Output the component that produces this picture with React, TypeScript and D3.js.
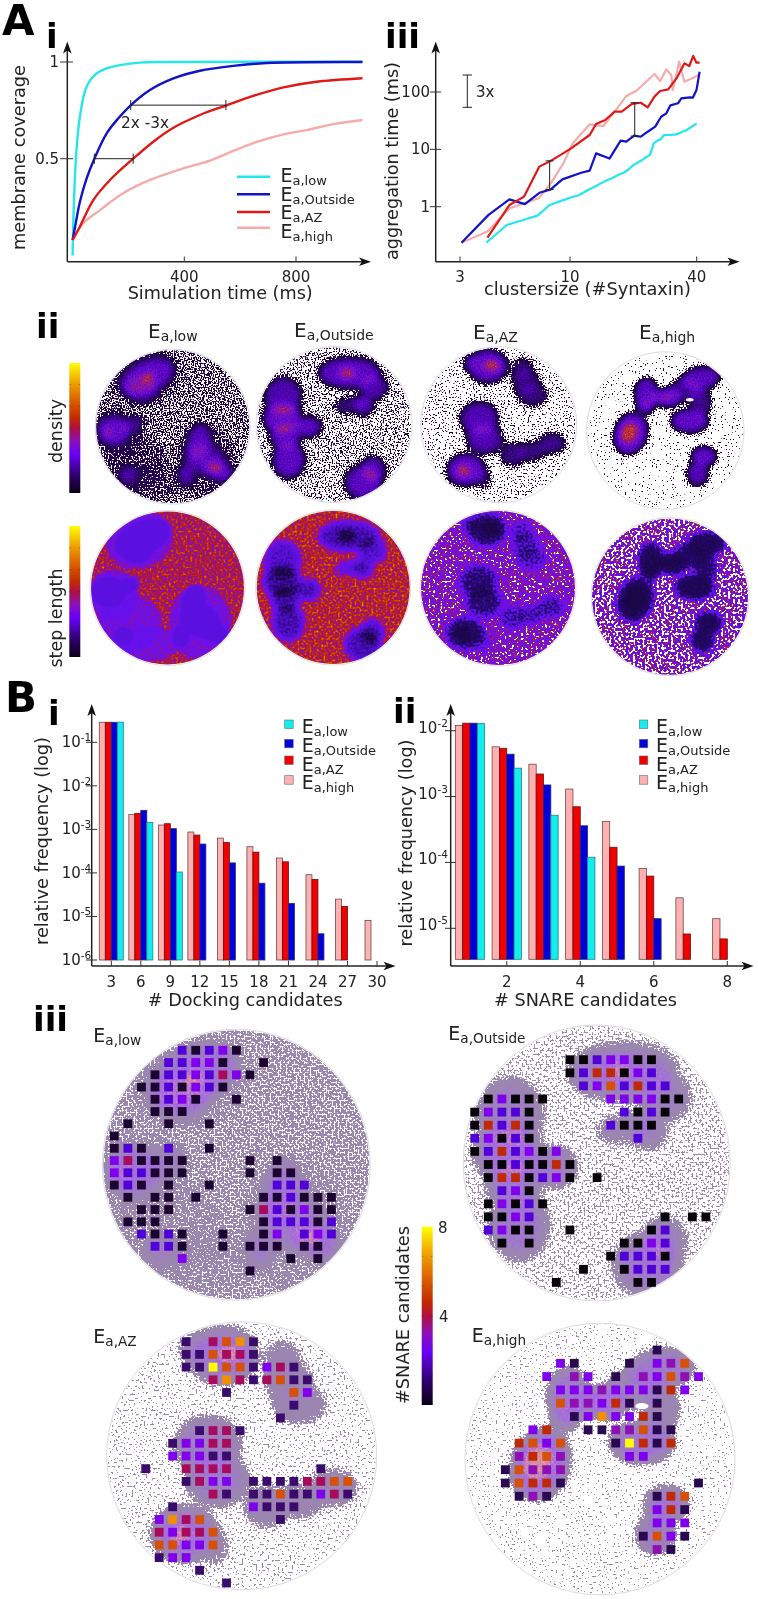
import React from "react";
import * as d3 from "d3";

type Pt = [number, number];
type Blob = [number, number, number, number, number, number];

// ---------- A i : membrane coverage vs. simulation time
const coverageTicksX = [400, 800];
const coverageTicksY = [0.5, 1];
const covLow: Pt[] = [[0, 0], [5, 0.286], [14, 0.545], [26, 0.717], [50, 0.872], [86, 0.941], [122, 0.967], [170, 0.984], [241, 0.997], [337, 1], [1038, 1.002]];
const covOutside: Pt[] = [[0, 0.08], [12, 0.172], [26, 0.276], [50, 0.397], [78, 0.5], [122, 0.631], [164, 0.709], [208, 0.776], [277, 0.855], [361, 0.915], [456, 0.955], [575, 0.98], [695, 0.995], [1038, 1]];
const covAZ: Pt[] = [[0, 0.08], [26, 0.148], [74, 0.286], [134, 0.39], [217, 0.5], [289, 0.588], [361, 0.66], [456, 0.726], [549, 0.775], [647, 0.825], [755, 0.869], [874, 0.898], [1038, 0.916]];
const covHigh: Pt[] = [[0, 0.08], [38, 0.166], [98, 0.234], [181, 0.321], [277, 0.39], [396, 0.45], [492, 0.49], [575, 0.54], [671, 0.592], [755, 0.626], [838, 0.648], [934, 0.679], [1038, 0.7]];

// ---------- A iii : aggregation time vs. cluster size
const aggTicksX = [3, 10, 40];
const aggTicksY = [1, 10, 100];
const aggLow: Pt[] = [[4, 0.235], [5, 0.48], [6, 0.585], [7, 0.7], [8, 1.07], [9, 1.25], [10, 1.43], [11, 1.58], [12, 1.9], [13, 2.2], [14, 2.55], [15, 2.9], [16, 3.2], [17, 3.6], [18, 3.9], [19, 4.5], [20, 5.3], [21, 5.9], [22, 6.5], [23, 7.3], [24, 8], [25, 12.7], [26, 14.2], [27, 15], [28, 17.8], [30, 17.8], [32, 18.2], [34, 20], [36, 22], [38, 25], [40, 28.4]];
const aggOutside: Pt[] = [[3.05, 0.235], [4.1, 0.72], [5.15, 1.34], [6.1, 1.11], [7.15, 1.75], [8.1, 2], [9.2, 3], [11.3, 3.9], [12.4, 4.25], [13.3, 8.5], [15.4, 6.9], [17.4, 14.2], [18.5, 13.6], [20.2, 17.3], [21.7, 16.6], [23.4, 20.3], [25.4, 24.9], [27.1, 37], [28.7, 42.5], [30, 58.5], [32.6, 63.5], [33.8, 77.6], [37, 80.7], [38.4, 79.9], [39.9, 108], [41.3, 226]];
const aggAZ: Pt[] = [[4.05, 0.29], [5.15, 1.07], [6.05, 1.5], [7.15, 5], [8.1, 6.3], [10, 10.1], [12.4, 17.8], [13.3, 27.7], [14.7, 32.5], [16.3, 45.4], [17.6, 45.4], [19.7, 61.9], [21.7, 65], [23.4, 54], [25.2, 83], [26.8, 104], [29.3, 111], [32.3, 180], [35, 316], [36.9, 284], [38.5, 425], [39.9, 325], [41.3, 325]];
const aggHigh: Pt[] = [[3.05, 0.235], [4.05, 0.37], [5.15, 0.93], [7.1, 1.4], [8.1, 2.55], [9.3, 5.7], [10.3, 12.7], [12.4, 27.3], [14.4, 25.5], [16.3, 45.4], [18.5, 85], [20.7, 105], [25.2, 206], [26.8, 155], [28.7, 248], [30.3, 198], [30.8, 108], [33, 338], [35, 151], [39, 180], [41.3, 206]];

// ---------- B i : docking candidates histogram
const dockBins = [3, 6, 9, 12, 15, 18, 21, 24, 27, 30];
const dockHigh = [0.288, 2.2e-3, 1.26e-3, 8.7e-4, 6.3e-4, 4.0e-4, 2.2e-4, 9.1e-5, 2.5e-5, 8.1e-6];
const dockAZ = [0.288, 2.34e-3, 1.35e-3, 7.4e-4, 5.0e-4, 3.0e-4, 1.8e-4, 7.1e-5, 1.7e-5, 0];
const dockOutside = [0.288, 2.74e-3, 1.04e-3, 4.6e-4, 1.7e-4, 5.8e-5, 2.0e-5, 4.0e-6, 0, 0];
const dockLow = [0.29, 1.45e-3, 1.05e-4, 0, 0, 0, 0, 0, 0, 0];
const dockTicksY = [1e-6, 1e-5, 1e-4, 1e-3, 1e-2, 1e-1];

// ---------- B ii : SNARE candidates histogram
const snareBins = [1, 2, 3, 4, 5, 6, 7, 8];
const snareHigh = [1.2e-2, 5.7e-3, 3.1e-3, 1.3e-3, 4.2e-4, 8.1e-5, 2.9e-5, 1.4e-5];
const snareAZ = [1.3e-2, 5.4e-3, 2.2e-3, 7.0e-4, 1.7e-4, 6.2e-5, 8.2e-6, 6.9e-6];
const snareOutside = [1.3e-2, 4.4e-3, 1.5e-3, 3.6e-4, 8.8e-5, 1.4e-5, 0, 0];
const snareLow = [1.28e-2, 2.7e-3, 5.2e-4, 1.2e-4, 0, 0, 0, 0];
const snareTicksX = [2, 4, 6, 8];
const snareTicksY = [1e-5, 1e-4, 1e-3, 1e-2];

// ---------- clusters of each condition, in units of the membrane radius
const blobsLow: Blob[] = [
  [-0.33, -0.64, 0.36, 0.2, -25, 0.42], [-0.4, -0.5, 0.2, 0.17, 0, 0.3], [-0.31, -0.65, 0.09, 0.07, -20, 0.42],
  [-0.76, 0.05, 0.2, 0.18, 0, 0.42], [-0.53, -0.02, 0.15, 0.09, -25, 0.25], [-0.83, 0.07, 0.06, 0.08, 0, 0.35],
  [0.34, 0.22, 0.14, 0.24, 10, 0.38], [0.42, 0.42, 0.26, 0.2, 20, 0.3], [0.18, 0.62, 0.09, 0.13, 0, 0.34], [0.58, 0.55, 0.2, 0.12, 30, 0.42], [0.57, 0.55, 0.06, 0.05, 0, 0.35],
  [-0.57, 0.62, 0.11, 0.1, 0, 0.3],
  [-0.36, -0.62, 0.44, 0.36, -20, 0.04], [-0.7, 0.08, 0.32, 0.32, 0, 0.04], [-0.5, 0.45, 0.42, 0.36, 0, 0.04], [-0.25, 0.72, 0.4, 0.22, 0, 0.04], [0.42, 0.45, 0.4, 0.48, 0, 0.04],
];
const blobsOutside: Blob[] = [
  [0.2, -0.66, 0.38, 0.18, 0, 0.45], [0.17, -0.66, 0.12, 0.08, 0, 0.5], [0.5, -0.48, 0.17, 0.15, 0, 0.38],
  [0.24, -0.26, 0.22, 0.08, -10, 0.26], [0.38, -0.24, 0.12, 0.11, 0, 0.36],
  [-0.65, -0.35, 0.22, 0.24, 0, 0.38], [-0.66, -0.08, 0.23, 0.2, 0, 0.5], [-0.62, 0.15, 0.18, 0.16, 0, 0.45], [-0.58, 0.45, 0.19, 0.22, 0, 0.46],
  [-0.33, 0.03, 0.15, 0.12, 0, 0.45],
  [0.38, 0.74, 0.22, 0.2, 0, 0.45], [0.5, 0.58, 0.14, 0.15, 0, 0.42],
];
const blobsAZ: Blob[] = [
  [-0.14, -0.75, 0.24, 0.2, 0, 0.5], [-0.36, -0.8, 0.09, 0.09, 0, 0.3], [-0.09, -0.76, 0.12, 0.08, 0, 0.65],
  [0.3, -0.72, 0.13, 0.13, 0, 0.25], [0.35, -0.55, 0.17, 0.15, 0, 0.28], [0.43, -0.38, 0.19, 0.13, 0, 0.28],
  [-0.25, -0.08, 0.23, 0.2, 0, 0.44], [-0.18, 0.18, 0.22, 0.18, 0, 0.44],
  [-0.42, 0.58, 0.23, 0.19, 0, 0.52], [-0.45, 0.59, 0.09, 0.08, 0, 0.65], [-0.2, 0.68, 0.1, 0.13, 0, 0.2],
  [0.18, 0.38, 0.15, 0.14, 0, 0.3], [0.42, 0.34, 0.17, 0.11, 0, 0.3], [0.68, 0.24, 0.16, 0.12, 0, 0.34],
];
const blobsHigh: Blob[] = [
  [-0.24, -0.46, 0.14, 0.2, 0, 0.52], [-0.26, -0.3, 0.1, 0.1, 0, 0.35], [-0.06, -0.42, 0.14, 0.1, 0, 0.4], [0.06, -0.42, 0.14, 0.12, 0, 0.52],
  [0.45, -0.66, 0.24, 0.14, -10, 0.5], [0.26, -0.52, 0.2, 0.14, 0, 0.35], [0.31, -0.12, 0.23, 0.14, 0, 0.55], [0.45, -0.36, 0.13, 0.17, 0, 0.35],
  [-0.44, 0.04, 0.2, 0.26, 20, 0.58], [-0.46, 0.03, 0.11, 0.14, 25, 0.68],
  [0.49, 0.33, 0.15, 0.12, 0, 0.55], [0.41, 0.55, 0.13, 0.14, 0, 0.48],
];
const holesHigh: Blob[] = [[0.31, -0.39, 0.05, 0.022, 0, 1]];

// ---------- B iii : #SNARE candidates of each grid cell ("." = no candidate)
const gridLow = [
  ".....21231.......", "....22331..1.....", "...12232531......", "..1121321........", "...1231..1.......",
  "...111...........", ".1..1..1.........", "1................", "121.2..1.........", "351111....1.1....",
  "322111....1.11...", "121.1..1....222..", ".1.11.1....112111", "..111.....1521311", ".111.......122212",
  "..2121..1..13.232", "...221..1.111.11.", ".....3.......1.1.", "..........1......",
];
const gridOutside = [
  ".......1123311....", ".......1266132....", "........2372622...", ".13111....333311..", "13221......2121...",
  "16261.....2111....", "23121.......2.....", "1262313...........", ".1121161..........", ".1661231.1........",
  "..231.............", ".13121............", ".1132.........1.11", ".2311..1.....12...", "..1.1......1132...",
  "..........12221...", "........1..1222...", "......1.....11....",
];
const gridAZ = [
  "...1.5781.......", "...117551.......", "...119771351....", ".....58515711...", "......1....73...",
  "...........1....", "..........1.....", "....1551........", "..13355.........", "..33311.........",
  "1..5555......1..", "...1533.11115577", ".....51.11711351", "..1.....3111....", ".3857.....1.....",
  ".53557..........", ".77337..........", ".133............", "....1...........", "......1.........",
];
const gridHigh = [
  "...........1...", "....31...1.347.", "...3.43.1.43743", "....3334333163.", "....744361.1...",
  ".....1383361...", "..36..1144711..", ".6737...19616..", ".4674....33....", "17444..........",
  "17661.........1", ".141.......167.", "...........361.", "...........333.", "..........1731.", "...........41..",
];
const gridLevels = [2, 3, 4, 5, 6, 7, 8, 9];
const gridLevelColors = ["#5200d8", "#8000ee", "#8c10b4", "#a80a5c", "#bf2a04", "#d65008", "#f09000", "#ffff00"];

const condLabels = ["a,low", "a,Outside", "a,AZ", "a,high"];
const colCyan = "#25e6ec", colBlue = "#1212c8", colRed = "#e01818", colPink = "#f6abab";
const barCyan = "#12eeee", barBlue = "#0000d8", barRed = "#f20000", barPink = "#ffb0b0";
const ink = "#222";
const FONT = "'DejaVu Sans', sans-serif";

type Look = { stops: [number, string][]; base: number; amp: number; freq: number; blur: number; gain: number };

const densityStops: [number, string][] = [[0, "#fff"], [0.118, "#fff"], [0.128, "#1c0038"], [0.32, "#2f0a70"], [0.48, "#5000b8"], [0.68, "#7010d8"], [0.8, "#a01878"], [0.9, "#c83a10"], [1, "#e87000"]];
const stepBright: [number, string][] = [[0, "#f0a000"], [0.08, "#d85000"], [0.14, "#c03000"], [0.21, "#a8105c"], [0.28, "#8a10a8"], [0.36, "#6a10ee"], [0.62, "#6410e8"], [1, "#5c10e0"]];
const stepDarkCore: [number, string][] = [[0, "#f0a000"], [0.08, "#d85000"], [0.14, "#c03000"], [0.21, "#a8105c"], [0.28, "#8a10a8"], [0.36, "#6a10ee"], [0.6, "#5a10d8"], [0.8, "#3c0aa0"], [0.95, "#24085c"], [1, "#1c0648"]];
const stepAZ: [number, string][] = [[0, "#fff"], [0.07, "#fff"], [0.08, "#d04000"], [0.13, "#a01060"], [0.19, "#7410e0"], [0.36, "#6a10ee"], [0.48, "#5010d0"], [0.6, "#2e0a80"], [0.8, "#220860"], [1, "#1c0648"]];
const stepHigh: [number, string][] = [[0, "#fff"], [0.16, "#fff"], [0.17, "#c03010"], [0.2, "#a01080"], [0.23, "#6a10ee"], [0.38, "#5a10e0"], [0.48, "#2a0878"], [0.7, "#220860"], [1, "#1a0648"]];
const candidateStops: [number, string][] = [[0, "#fff"], [0.118, "#fff"], [0.128, "#9b87b0"], [0.36, "#9b87b0"], [0.52, "#a07cc8"], [0.68, "#a468e4"], [0.8, "#c080c8"], [0.92, "#e8988c"], [1, "#f0a070"]];

const densLooks: Look[] = [
  { stops: densityStops, base: 0.122, amp: 0.55, freq: 0.71, blur: 3.2, gain: 1 },
  { stops: densityStops, base: 0.09, amp: 0.55, freq: 0.71, blur: 3.2, gain: 1 },
  { stops: densityStops, base: 0.05, amp: 0.55, freq: 0.71, blur: 3.6, gain: 1 },
  { stops: densityStops, base: 0.022, amp: 0.55, freq: 0.71, blur: 3.2, gain: 1 },
];
const stepLooks: Look[] = [
  { stops: stepBright, base: 0.185, amp: 0.55, freq: 0.42, blur: 1.6, gain: 4.4 },
  { stops: stepDarkCore, base: 0.17, amp: 0.55, freq: 0.42, blur: 3, gain: 1.25 },
  { stops: stepAZ, base: 0.19, amp: 0.85, freq: 0.42, blur: 3, gain: 1.1 },
  { stops: stepHigh, base: 0.2, amp: 0.7, freq: 0.42, blur: 3, gain: 1.1 },
];
const candLooks: Look[] = [
  { stops: candidateStops, base: 0.135, amp: 0.55, freq: 0.5, blur: 5, gain: 1 },
  { stops: candidateStops, base: 0.085, amp: 0.55, freq: 0.5, blur: 5.5, gain: 1 },
  { stops: candidateStops, base: 0.04, amp: 0.55, freq: 0.5, blur: 5.5, gain: 1 },
  { stops: candidateStops, base: 0.02, amp: 0.55, freq: 0.5, blur: 5, gain: 1 },
];

const Arrow = ({ x, y, dir }: { x: number; y: number; dir: "up" | "right" }) => (
  <path d="M0,0 L-12,-4.3 L-9,0 L-12,4.3 Z" transform={`translate(${x},${y}) rotate(${dir === "up" ? -90 : 0})`} fill="#111" />
);

const Bold = ({ x, y, size, children }: any) => (
  <text x={x} y={y} fontSize={size} fontWeight="bold" fontFamily={FONT} fill="#000">{children}</text>
);

const ELabel = ({ x, y, sub, size = 19, subSize = 13, drop = 3 }: any) => (
  <text x={x} y={y} fontFamily={FONT} fill={ink} fontSize={size}>E<tspan fontSize={subSize} dy={drop}>{sub}</tspan></text>
);

const Sci = ({ x, y, exp }: { x: number; y: number; exp: number }) => (
  <text x={x} y={y} fontFamily={FONT} fontSize={15} fill={ink}>10<tspan fontSize={10.5} dy={-6}>{`-${exp}`}</tspan></text>
);

const VText = ({ x, y, size, len, children }: any) => (
  <text transform={`translate(${x},${y}) rotate(-90)`} textAnchor="middle" fontFamily={FONT} fontSize={size} fill={ink} textLength={len} lengthAdjust="spacingAndGlyphs">{children}</text>
);

const HText = ({ x, y, size, len, children }: any) => (
  <text x={x} y={y} fontFamily={FONT} fontSize={size} fill={ink} textLength={len} lengthAdjust="spacingAndGlyphs">{children}</text>
);

function tables(stops: [number, string][]) {
  const scale = d3.scaleLinear<string>().domain(stops.map((s) => s[0])).range(stops.map((s) => s[1])).clamp(true);
  const n = 160;
  const r: number[] = [], g: number[] = [], b: number[] = [];
  for (let i = 0; i <= n; i++) {
    const c = d3.rgb(scale(i / n));
    r.push(+(c.r / 255).toFixed(3));
    g.push(+(c.g / 255).toFixed(3));
    b.push(+(c.b / 255).toFixed(3));
  }
  return { r: r.join(" "), g: g.join(" "), b: b.join(" ") };
}

const FieldPanel = ({ id, cx, cy, rx, ry, blobs, look, seed, holes = [] }: { id: string; cx: number; cy: number; rx: number; ry: number; blobs: Blob[]; look: Look; seed: number; holes?: Blob[] }) => {
  const u = d3.scaleLinear().domain([-1, 1]).range([cx - rx, cx + rx]);
  const v = d3.scaleLinear().domain([-1, 1]).range([cy - ry, cy + ry]);
  const t = tables(look.stops);
  return (
    <g>
      <defs>
        <clipPath id={`${id}c`}><ellipse cx={cx} cy={cy} rx={rx - 1} ry={ry - 1} /></clipPath>
        <filter id={`${id}f`} filterUnits="userSpaceOnUse" x={cx - rx - 4} y={cy - ry - 4} width={2 * rx + 8} height={2 * ry + 8} colorInterpolationFilters="sRGB">
          <feGaussianBlur in="SourceAlpha" stdDeviation={look.blur} result="field" />
          <feTurbulence type="fractalNoise" baseFrequency={look.freq} numOctaves={1} seed={seed} result="n0" />
          <feColorMatrix in="n0" type="matrix" values="0 0 0 0 0  0 0 0 0 0  0 0 0 0 0  1 0 0 0 0" result="noise" />
          <feComposite in="field" in2="noise" operator="arithmetic" k1={0} k2={look.gain} k3={look.amp} k4={look.base - look.amp / 2} result="val" />
          <feColorMatrix in="val" type="matrix" values="0 0 0 1 0  0 0 0 1 0  0 0 0 1 0  0 0 0 0 1" result="gray" />
          <feComponentTransfer in="gray">
            <feFuncR type="table" tableValues={t.r} />
            <feFuncG type="table" tableValues={t.g} />
            <feFuncB type="table" tableValues={t.b} />
          </feComponentTransfer>
        </filter>
      </defs>
      <g clipPath={`url(#${id}c)`}>
        <g filter={`url(#${id}f)`}>
          <rect x={cx - rx - 4} y={cy - ry - 4} width={2 * rx + 8} height={2 * ry + 8} fill="#000" fillOpacity={0.002} />
          {blobs.map((b, i) => (
            <ellipse key={i} cx={u(b[0])} cy={v(b[1])} rx={b[2] * rx} ry={b[3] * ry} fill="#000" fillOpacity={b[5]} transform={`rotate(${b[4]} ${u(b[0])} ${v(b[1])})`} />
          ))}
        </g>
        {holes.map((b, i) => (
          <ellipse key={i} cx={u(b[0])} cy={v(b[1])} rx={b[2] * rx} ry={b[3] * ry} fill="#fff" />
        ))}
      </g>
      <ellipse cx={cx} cy={cy} rx={rx} ry={ry} fill="none" stroke="#dcdcdc" strokeWidth={1} />
    </g>
  );
};

const Grid = ({ rows, x0, dx, y0, dy, dark }: { rows: string[]; x0: number; dx: number; y0: number; dy: number; dark: string }) => {
  const levelColor = d3.scaleOrdinal<number, string>().domain(gridLevels).range(gridLevelColors);
  const s = 8.8;
  return (
    <g>
      {rows.map((row, j) =>
        row.split("").map((ch, i) => {
          if (ch === ".") return null;
          const val = +ch;
          return <rect key={`${i}-${j}`} x={x0 + i * dx - s / 2} y={y0 + j * dy - s / 2} width={s} height={s} fill={val === 1 ? dark : levelColor(val)} />;
        })
      )}
    </g>
  );
};

const Colorbar = ({ x, y, w, h, id }: { x: number; y: number; w: number; h: number; id: string }) => (
  <g>
    <defs>
      <linearGradient id={id} x1="0" y1="1" x2="0" y2="0">
        <stop offset="0" stopColor="#0c0018" />
        <stop offset="0.12" stopColor="#2a0060" />
        <stop offset="0.3" stopColor="#6a00f8" />
        <stop offset="0.4" stopColor="#8a10b8" />
        <stop offset="0.5" stopColor="#b01040" />
        <stop offset="0.58" stopColor="#c02c00" />
        <stop offset="0.72" stopColor="#dc6400" />
        <stop offset="0.86" stopColor="#f0a800" />
        <stop offset="1" stopColor="#ffff00" />
      </linearGradient>
    </defs>
    <rect x={x} y={y} width={w} height={h} fill={`url(#${id})`} />
    {[1, 2, 3, 4, 5].map((k) => (
      <g key={k} stroke="#222" strokeOpacity={0.45} strokeWidth={0.6}>
        <line x1={x} x2={x + 2} y1={y + (k * h) / 6} y2={y + (k * h) / 6} />
        <line x1={x + w - 2} x2={x + w} y1={y + (k * h) / 6} y2={y + (k * h) / 6} />
      </g>
    ))}
  </g>
);

const PanelAi = () => {
  const x = d3.scaleLinear().domain([0, 800]).range([72.6, 296]);
  const y = d3.scaleLinear().domain([0, 1]).range([255.4, 62]);
  const line = d3.line<Pt>().x((d) => x(d[0])).y((d) => y(d[1])).curve(d3.curveCatmullRom.alpha(0.5));
  const series: [Pt[], string][] = [[covHigh, colPink], [covLow, colCyan], [covOutside, colBlue], [covAZ, colRed]];
  const legendOrder = [colCyan, colBlue, colRed, colPink];
  const legendY = [176.7, 194.3, 212, 227.7];
  const legendBase = [181.7, 200.7, 219.3, 238];
  return (
    <g>
      {series.map(([d, c], i) => <path key={i} d={line(d) || ""} fill="none" stroke={c} strokeWidth={2.4} />)}
      <line x1={67.3} x2={67.3} y1={50} y2={261.7} stroke="#222" strokeWidth={1.5} />
      <line x1={67.3} x2={364} y1={261.7} y2={261.7} stroke="#222" strokeWidth={1.5} />
      <Arrow x={67.3} y={41.5} dir="up" />
      <Arrow x={371} y={261.7} dir="right" />
      {coverageTicksY.map((t) => (
        <g key={t}>
          <line x1={60} x2={73} y1={y(t)} y2={y(t)} stroke="#333" strokeWidth={1} />
          <text x={59} y={y(t) + 5} textAnchor="end" fontFamily={FONT} fontSize={15} fill={ink}>{t}</text>
        </g>
      ))}
      {coverageTicksX.map((t) => (
        <g key={t}>
          <line x1={x(t)} x2={x(t)} y1={256.5} y2={261.7} stroke="#333" strokeWidth={1} />
          <text x={x(t)} y={282} textAnchor="middle" fontFamily={FONT} fontSize={15} fill={ink}>{t}</text>
        </g>
      ))}
      <HText x={127.7} y={299} size={17.6} len={185}>Simulation time (ms)</HText>
      <VText x={24.5} y={157.5} size={17.6} len={185}>membrane coverage</VText>
      {[[78, 217, 0.5], [208, 549, 0.777]].map(([a, b, v], i) => (
        <g key={i} stroke="#222" strokeWidth={1}>
          <line x1={x(a)} x2={x(b)} y1={y(v)} y2={y(v)} />
          <line x1={x(a)} x2={x(a)} y1={y(v) - 5} y2={y(v) + 5} />
          <line x1={x(b)} x2={x(b)} y1={y(v) - 5} y2={y(v) + 5} />
        </g>
      ))}
      <HText x={121} y={128} size={15} len={48}>2x -3x</HText>
      {legendOrder.map((c, i) => (
        <g key={c}>
          <line x1={237} x2={270} y1={legendY[i]} y2={legendY[i]} stroke={c} strokeWidth={2.4} />
          <ELabel x={280.5} y={legendBase[i]} sub={condLabels[i]} />
        </g>
      ))}
      <Bold x={2} y={35} size={42}>A</Bold>
      <Bold x={46} y={48} size={34}>i</Bold>
    </g>
  );
};

const PanelAiii = () => {
  const x = d3.scaleLog().domain([3, 40]).range([460, 696.7]);
  const y = d3.scaleLog().domain([1, 100]).range([206.7, 92]);
  const line = d3.line<Pt>().x((d) => x(d[0])).y((d) => y(d[1]));
  const series: [Pt[], string][] = [[aggHigh, colPink], [aggLow, colCyan], [aggOutside, colBlue], [aggAZ, colRed]];
  return (
    <g>
      {series.map(([d, c], i) => <path key={i} d={line(d) || ""} fill="none" stroke={c} strokeWidth={2.2} strokeLinejoin="round" />)}
      <line x1={435.7} x2={435.7} y1={50} y2={261.7} stroke="#222" strokeWidth={1.5} />
      <line x1={435.7} x2={732} y1={261.7} y2={261.7} stroke="#222" strokeWidth={1.5} />
      <Arrow x={435.7} y={41.5} dir="up" />
      <Arrow x={739.5} y={261.7} dir="right" />
      {aggTicksY.map((t) => (
        <g key={t}>
          <line x1={430} x2={441} y1={y(t)} y2={y(t)} stroke="#333" strokeWidth={1} />
          <text x={430} y={y(t) + 5} textAnchor="end" fontFamily={FONT} fontSize={15} fill={ink}>{t}</text>
        </g>
      ))}
      {aggTicksX.map((t) => (
        <g key={t}>
          <line x1={x(t)} x2={x(t)} y1={256.5} y2={261.7} stroke="#333" strokeWidth={1} />
          <text x={x(t)} y={281.5} textAnchor="middle" fontFamily={FONT} fontSize={15} fill={ink}>{t}</text>
        </g>
      ))}
      <HText x={484} y={295} size={17.6} len={207}>clustersize (#Syntaxin)</HText>
      <VText x={398} y={161} size={17.6} len={198}>aggregation time (ms)</VText>
      {[[8, 2, 6.3], [20.3, 17, 65]].map(([n, a, b], i) => (
        <g key={i} stroke="#222" strokeWidth={1}>
          <line x1={x(n)} x2={x(n)} y1={y(a)} y2={y(b)} />
          <line x1={x(n) - 4} x2={x(n) + 4} y1={y(a)} y2={y(a)} />
          <line x1={x(n) - 4} x2={x(n) + 4} y1={y(b)} y2={y(b)} />
        </g>
      ))}
      <g stroke="#222" strokeWidth={1}>
        <line x1={467.3} x2={467.3} y1={75} y2={107.3} />
        <line x1={462.7} x2={472} y1={75} y2={75} />
        <line x1={462.7} x2={472} y1={107.3} y2={107.3} />
      </g>
      <text x={476} y={96.5} fontFamily={FONT} fontSize={15} fill={ink}>3x</text>
      <Bold x={385} y={48} size={34}>iii</Bold>
    </g>
  );
};

const PanelAii = () => {
  const blobs = [blobsLow, blobsOutside, blobsAZ, blobsHigh];
  const dens = [[172.7, 426.7, 77.5], [334, 424.5, 78], [498.7, 424.7, 78], [665.3, 430.5, 78.7]];
  const step = [[167.5, 588, 77.5], [333.2, 587.5, 77.5], [498, 588, 78], [670, 596.7, 79]];
  const titles: [number, number][] = [[148, 338], [294, 337], [473, 339], [639, 339]];
  return (
    <g>
      <Bold x={36} y={338} size={34}>ii</Bold>
      {titles.map(([x, y], i) => <ELabel key={i} x={x} y={y} sub={condLabels[i]} size={20} subSize={14} drop={3} />)}
      {dens.map(([cx, cy, r], i) => <FieldPanel key={i} id={`d${i}`} cx={cx} cy={cy} rx={r} ry={r} blobs={blobs[i]} look={densLooks[i]} seed={3 + i} holes={i === 3 ? holesHigh : []} />)}
      {step.map(([cx, cy, r], i) => <FieldPanel key={i} id={`s${i}`} cx={cx} cy={cy} rx={r} ry={r} blobs={blobs[i]} look={stepLooks[i]} seed={13 + i} />)}
      <Colorbar x={69.3} y={363} w={11} h={130} id="cbD" />
      <Colorbar x={69.3} y={526} w={11} h={131} id="cbS" />
      <VText x={61.5} y={431} size={17.6} len={64}>density</VText>
      <VText x={61.5} y={618} size={17.6} len={99}>step length</VText>
    </g>
  );
};

const Bars = ({ bins, sets, x, y, w, base }: { bins: number[]; sets: [number[], string][]; x: (v: number) => number; y: (v: number) => number; w: number; base: number }) => (
  <g>
    {bins.map((b, i) => (
      <g key={b}>
        {sets.map(([vals, c], k) => {
          if (!vals[i]) return null;
          const top = y(vals[i]);
          return <rect key={k} x={x(b) - 2 * w + k * w} y={top} width={w} height={base - top} fill={c} stroke={c === barCyan ? "#2a7f86" : c === barBlue ? "#2a2a80" : c === barRed ? "#6a1010" : "#6a4a4a"} strokeWidth={0.8} />;
        })}
      </g>
    ))}
  </g>
);

const BarLegend = ({ sx, tx }: { sx: number; tx: number }) => {
  const fills = [barCyan, barBlue, barRed, barPink];
  const sy = [720, 739.3, 756, 775.7];
  const ty = [733.3, 752.3, 771, 789];
  return (
    <g>
      {fills.map((c, i) => (
        <g key={c}>
          <rect x={sx} y={sy[i]} width={8.5} height={8.5} fill={c} stroke="#667" strokeWidth={0.6} />
          <ELabel x={tx} y={ty[i]} sub={condLabels[i]} />
        </g>
      ))}
    </g>
  );
};

const PanelBi = () => {
  const x = d3.scaleLinear().domain([3, 30]).range([111.3, 377]);
  const y = d3.scaleLog().domain([1e-6, 1e-1]).range([960, 742.3]);
  return (
    <g>
      <Bars bins={dockBins} sets={[[dockHigh, barPink], [dockAZ, barRed], [dockOutside, barBlue], [dockLow, barCyan]]} x={x} y={y} w={6} base={960} />
      <line x1={91.7} x2={91.7} y1={713} y2={966} stroke="#222" strokeWidth={1.5} />
      <line x1={91.7} x2={388} y1={966} y2={966} stroke="#222" strokeWidth={1.5} />
      <Arrow x={91.7} y={704} dir="up" />
      <Arrow x={395.5} y={966} dir="right" />
      {dockTicksY.map((t, i) => (
        <g key={t}>
          <line x1={86} x2={97} y1={y(t)} y2={y(t)} stroke="#333" strokeWidth={1} />
          <Sci x={61.7} y={y(t) + 5} exp={6 - i} />
        </g>
      ))}
      {dockBins.map((t) => (
        <g key={t}>
          <line x1={x(t)} x2={x(t)} y1={961} y2={966} stroke="#333" strokeWidth={1} />
          <text x={x(t)} y={986.7} textAnchor="middle" fontFamily={FONT} fontSize={15} fill={ink}>{t}</text>
        </g>
      ))}
      <HText x={147.7} y={1006} size={17.6} len={195}># Docking candidates</HText>
      <VText x={48} y={841} size={17.6} len={208}>relative frequency (log)</VText>
      <BarLegend sx={284.7} tx={301.7} />
      <Bold x={5} y={711.5} size={42}>B</Bold>
      <Bold x={48} y={725} size={34}>i</Bold>
    </g>
  );
};

const PanelBii = () => {
  const x = d3.scaleLinear().domain([1, 8]).range([470, 727.3]);
  const y = d3.scaleLog().domain([1e-5, 1e-2]).range([928.3, 730.7]);
  return (
    <g>
      <Bars bins={snareBins} sets={[[snareHigh, barPink], [snareAZ, barRed], [snareOutside, barBlue], [snareLow, barCyan]]} x={x} y={y} w={7.33} base={959.3} />
      <line x1={450.7} x2={450.7} y1={713} y2={966} stroke="#222" strokeWidth={1.5} />
      <line x1={450.7} x2={746} y1={966} y2={966} stroke="#222" strokeWidth={1.5} />
      <Arrow x={450.7} y={704} dir="up" />
      <Arrow x={753.5} y={966} dir="right" />
      {snareTicksY.map((t, i) => (
        <g key={t}>
          <line x1={445} x2={456} y1={y(t)} y2={y(t)} stroke="#333" strokeWidth={1} />
          <Sci x={418.3} y={y(t) + 2} exp={5 - i} />
        </g>
      ))}
      {snareTicksX.map((t) => (
        <g key={t}>
          <line x1={x(t)} x2={x(t)} y1={961} y2={966} stroke="#333" strokeWidth={1} />
          <text x={x(t)} y={986.7} textAnchor="middle" fontFamily={FONT} fontSize={15} fill={ink}>{t}</text>
        </g>
      ))}
      <HText x={494} y={1006} size={17.6} len={183}># SNARE candidates</HText>
      <VText x={411.7} y={843} size={17.6} len={207}>relative frequency (log)</VText>
      <BarLegend sx={639.3} tx={656} />
      <Bold x={393} y={723} size={34}>ii</Bold>
    </g>
  );
};

const PanelBiii = () => {
  const panels: { cx: number; cy: number; rx: number; ry: number; blobs: Blob[]; rows: string[]; x0: number; dx: number; y0: number; dy: number; dark: string; lx: number; ly: number; sub: string; holes: Blob[] }[] = [
    { cx: 236.3, cy: 1164.7, rx: 134, ry: 135.5, blobs: blobsLow, rows: gridLow, x0: 114.3, dx: 13.57, y0: 1050.3, dy: 12.25, dark: "#1c0430", lx: 93.3, ly: 1041.7, sub: condLabels[0], holes: [] },
    { cx: 596.7, cy: 1163, rx: 133.5, ry: 138, blobs: blobsOutside, rows: gridOutside, x0: 474.7, dx: 13.6, y0: 1059.7, dy: 13.1, dark: "#060208", lx: 448.3, ly: 1040, sub: condLabels[1], holes: [] },
    { cx: 241.7, cy: 1455.8, rx: 135, ry: 134, blobs: blobsAZ, rows: gridAZ, x0: 145.7, dx: 13.47, y0: 1341.7, dy: 12.7, dark: "#3a0a6c", lx: 93.3, ly: 1343, sub: condLabels[2], holes: [] },
    { cx: 600, cy: 1459, rx: 135, ry: 135.8, blobs: blobsHigh, rows: gridHigh, x0: 505.3, dx: 13.8, y0: 1350, dy: 13.3, dark: "#2a0850", lx: 471.7, ly: 1341.7, sub: condLabels[3], holes: holesHigh },
  ];
  return (
    <g>
      <Bold x={33} y={1031} size={34}>iii</Bold>
      {panels.map((p, i) => (
        <g key={i}>
          <FieldPanel id={`c${i}`} cx={p.cx} cy={p.cy} rx={p.rx} ry={p.ry} blobs={p.blobs} look={candLooks[i]} seed={23 + i} holes={p.holes} />
          <Grid rows={p.rows} x0={p.x0} dx={p.dx} y0={p.y0} dy={p.dy} dark={p.dark} />
          <ELabel x={p.lx} y={p.ly} sub={p.sub} size={19} subSize={13.6} />
        </g>
      ))}
      <Colorbar x={421.7} y={1226.7} w={11} h={178.3} id="cbC" />
      <text x={438} y={1233} fontFamily={FONT} fontSize={15} fill={ink}>8</text>
      <text x={439} y={1321.7} fontFamily={FONT} fontSize={15} fill={ink}>4</text>
      <VText x={409} y={1315} size={17.6} len={178}>#SNARE candidates</VText>
    </g>
  );
};

export default function App() {
  return (
    <svg width={758} height={1599} viewBox="0 0 758 1599" style={{ position: "absolute", left: 0, top: 0, background: "#fff", filter: "blur(0.4px)" }}>
      <PanelAi />
      <PanelAiii />
      <PanelAii />
      <PanelBi />
      <PanelBii />
      <PanelBiii />
    </svg>
  );
}
